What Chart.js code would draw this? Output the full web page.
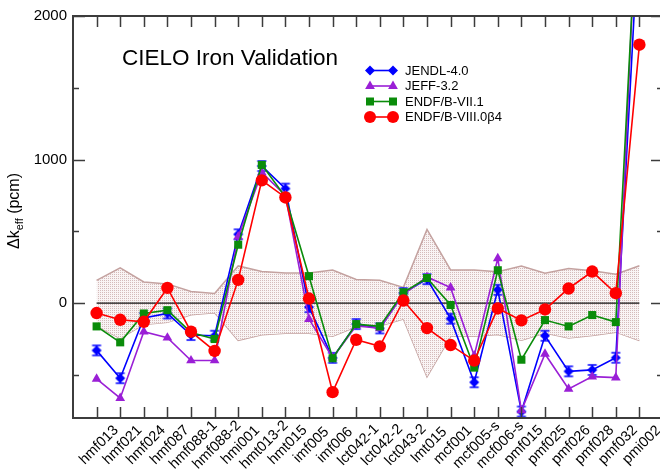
<!DOCTYPE html>
<html><head><meta charset="utf-8">
<script src="https://cdn.jsdelivr.net/npm/chart.js@4.4.1/dist/chart.umd.min.js"></script>
<style>
html,body{margin:0;padding:0;background:#fff;overflow:hidden;width:660px;height:470px}
#wrap{position:relative;width:680px;height:470px}
</style></head><body>
<div id="wrap"><canvas id="c"></canvas></div>
<script>
// ---- data ----
const categories = ['hmf013','hmf021','hmf024','hmf087','hmf088-1','hmf088-2','hmi001','hmt013-2','hmt015','imf005','imf006','lct042-1','lct042-2','lct043-2','lmt015','mcf001','mcf005-s','mcf006-s','pmf015','pmf025','pmf026','pmf028','pmf032','pmi002'];
const jendl40   = [-329,-523,-104,-72,-222,-227,479,955,798,-28,-381,-146,-176,70,167,-108,-551,93,-755,-227,-475,-465,-380,2700];
const jeff32    = [-528,-662,-199,-241,-400,-400,463,910,750,-111,-380,-157,-176,62,182,108,-366,312,-748,-354,-597,-512,-519,3200];
const endfb71   = [-162,-273,-72,-49,-204,-250,407,963,741,188,-384,-146,-162,76,175,-13,-449,229,-394,-118,-162,-83,-132,3050];
const endfb80b4 = [-69,-116,-130,106,-199,-333,162,855,736,32,-620,-255,-301,18,-174,-292,-400,-37,-120,-44,102,220,69,1800];
const benchUnc  = [158,246,148,134,81,67,259,221,210,210,231,165,160,110,513,231,231,218,258,208,242,226,202,260];
const yLabelValues = [0,1000,2000];
const yMajorTicks = [0,1000,2000];
const yMinorTicks = [-500,500,1500];
const seriesNames = ['JENDL-4.0','JEFF-3.2','ENDF/B-VII.1','ENDF/B-VIII.0\u03B24'];
const chartTitle = 'CIELO Iron Validation';

// ---- styles ----
const FONT = '"Liberation Sans", Arial, Helvetica, sans-serif';
const COL = {blue:'#0000ff', purple:'#9a1fd6', green:'#0a8c0a', red:'#ff0000', band:'#c4a2a0'};

function toPts(arr){ return arr.map((v,i)=>({x:i+1, y:v})); }

function makePattern(){
  const c=document.createElement('canvas'); c.width=2; c.height=2;
  const g=c.getContext('2d');
  g.fillStyle='rgb(249,244,244)'; g.fillRect(0,0,2,2);
  g.fillStyle='rgb(212,186,186)'; g.fillRect(0,0,1,1);
  return g.createPattern(c,'repeat');
}
function blueMarker(){
  const c=document.createElement('canvas'); c.width=14; c.height=14;
  const g=c.getContext('2d');
  g.fillStyle=COL.blue; g.strokeStyle=COL.blue; g.lineWidth=1.3;
  g.beginPath(); g.moveTo(7,2); g.lineTo(12,7); g.lineTo(7,12); g.lineTo(2,7); g.closePath(); g.fill();
  g.beginPath(); g.moveTo(2.5,2); g.lineTo(11.5,2); g.moveTo(2.5,12); g.lineTo(11.5,12); g.moveTo(7,2); g.lineTo(7,12); g.stroke();
  return c;
}
function drawMarker(ctx, type, x, y, color){
  ctx.save(); ctx.fillStyle=color; ctx.beginPath();
  if(type==='diamond'){ ctx.moveTo(x,y-5); ctx.lineTo(x+5,y); ctx.lineTo(x,y+5); ctx.lineTo(x-5,y); ctx.closePath(); }
  else if(type==='triangle'){ ctx.moveTo(x,y-5.5); ctx.lineTo(x+4.9,y+3); ctx.lineTo(x-4.9,y+3); ctx.closePath(); }
  else if(type==='square'){ ctx.rect(x-4,y-4,8,8); }
  else { ctx.arc(x,y,6,0,Math.PI*2); }
  ctx.fill(); ctx.restore();
}

const deco = {
  id:'deco',
  afterDraw(chart){
    const ctx=chart.ctx, a=chart.chartArea, xs=chart.scales.x, ys=chart.scales.y;
    ctx.save();
    // frame
    ctx.strokeStyle='#3c3c3c'; ctx.lineWidth=2;
    ctx.strokeRect(a.left, a.top, a.right-a.left, a.bottom-a.top);
    // ticks (inward)
    ctx.lineWidth=1.5;
    ctx.beginPath();
    categories.forEach((c,i)=>{
      const px=Math.round(xs.getPixelForValue(i+1))+0.5;
      ctx.moveTo(px,a.bottom); ctx.lineTo(px,a.bottom-11);
      ctx.moveTo(px,a.top); ctx.lineTo(px,a.top+11);
    });
    yMajorTicks.forEach(v=>{
      const py=Math.round(ys.getPixelForValue(v))+0.5;
      ctx.moveTo(a.left,py); ctx.lineTo(a.left+12,py);
      ctx.moveTo(a.right,py); ctx.lineTo(a.right-12,py);
    });
    yMinorTicks.forEach(v=>{
      const py=Math.round(ys.getPixelForValue(v))+0.5;
      ctx.moveTo(a.left,py); ctx.lineTo(a.left+6,py);
      ctx.moveTo(a.right,py); ctx.lineTo(a.right-6,py);
    });
    ctx.stroke();
    // x labels rotated 45 deg, centred on tick
    ctx.fillStyle='#000'; ctx.font='14.5px '+FONT; ctx.textAlign='center'; ctx.textBaseline='middle';
    categories.forEach((c,i)=>{
      const px=xs.getPixelForValue(i+1);
      ctx.save(); ctx.translate(px+2.3, a.bottom+27); ctx.rotate(-Math.PI/4); ctx.fillText(c,0,0); ctx.restore();
    });
    // y title
    ctx.save(); ctx.translate(15, 211); ctx.rotate(-Math.PI/2);
    const f1='16px '+FONT, f2='11px '+FONT;
    ctx.font=f1; const w1=ctx.measureText('\u0394k').width, w3=ctx.measureText(' (pcm)').width;
    ctx.font=f2; const w2=ctx.measureText('eff').width;
    let sx=-(w1+w2+w3)/2;
    ctx.textAlign='left'; ctx.textBaseline='middle';
    ctx.font=f1; ctx.fillText('\u0394k', sx, 0); sx+=w1;
    ctx.font=f2; ctx.fillText('eff', sx, 5); sx+=w2;
    ctx.font=f1; ctx.fillText(' (pcm)', sx, 0);
    ctx.restore();
    // title
    ctx.font='22.5px '+FONT; ctx.textAlign='left'; ctx.textBaseline='alphabetic';
    ctx.fillText(chartTitle, 122, 65);
    // legend
    const rows=[70.5,86,101.5,117];
    const types=['diamond','triangle','square','circle'];
    const cols=[COL.blue,COL.purple,COL.green,COL.red];
    ctx.font='13px '+FONT; ctx.textBaseline='middle';
    rows.forEach((ry,i)=>{
      ctx.strokeStyle=cols[i]; ctx.lineWidth=1.6;
      ctx.beginPath(); ctx.moveTo(370,ry); ctx.lineTo(393,ry); ctx.stroke();
      drawMarker(ctx,types[i],370,ry,cols[i]); drawMarker(ctx,types[i],393,ry,cols[i]);
      ctx.fillStyle='#000'; ctx.fillText(seriesNames[i],405,ry+0.5);
    });
    ctx.restore();
  }
};

const ctx=document.getElementById('c').getContext('2d');
const pattern=makePattern();
const clipTop={left:false, top:0, right:false, bottom:false};
const lineDs=(label,arr,color,style,radius,order)=>({
  label, data:toPts(arr), borderColor:color, backgroundColor:color, borderWidth:1.6,
  pointStyle:style, pointRadius:radius, pointBorderWidth:0, pointBackgroundColor:color,
  tension:0, fill:false, order, clip:clipTop
});

new Chart(ctx,{
  type:'line',
  data:{datasets:[
    {label:'upper', data:toPts(benchUnc), borderColor:COL.band, borderWidth:1.5, pointRadius:0, fill:1, backgroundColor:pattern, tension:0, order:10},
    {label:'lower', data:toPts(benchUnc.map(v=>-v)), borderColor:COL.band, borderWidth:1.5, pointRadius:0, fill:false, tension:0, order:11},
    {label:'zero', data:toPts(categories.map(()=>0)), borderColor:'#111', borderWidth:1.4, pointRadius:0, fill:false, tension:0, order:9},
    lineDs(seriesNames[0], jendl40, COL.blue, blueMarker(), 7, 4),
    lineDs(seriesNames[1], jeff32, COL.purple, 'triangle', 5.6, 3),
    lineDs(seriesNames[2], endfb71, COL.green, 'rect', 5.7, 2),
    lineDs(seriesNames[3], endfb80b4, COL.red, 'circle', 6.2, 1)
  ]},
  options:{
    responsive:true, maintainAspectRatio:false, animation:false, events:[],
    layout:{padding:{left:0, top:16, right:17, bottom:52}},
    plugins:{legend:{display:false}, tooltip:{enabled:false}, title:{display:false}},
    scales:{
      x:{type:'linear', min:0, max:25, display:false},
      y:{type:'linear', min:-800, max:2000, position:'left',
         afterFit(s){ s.width=73; },
         afterBuildTicks(s){ s.ticks=yLabelValues.map(v=>({value:v})); },
         grid:{display:false, drawTicks:false}, border:{display:false},
         ticks:{color:'#000', padding:6, font:{family:FONT, size:15}, callback:(v)=>String(v)}}
    }
  },
  plugins:[deco]
});
</script>
</body></html>
